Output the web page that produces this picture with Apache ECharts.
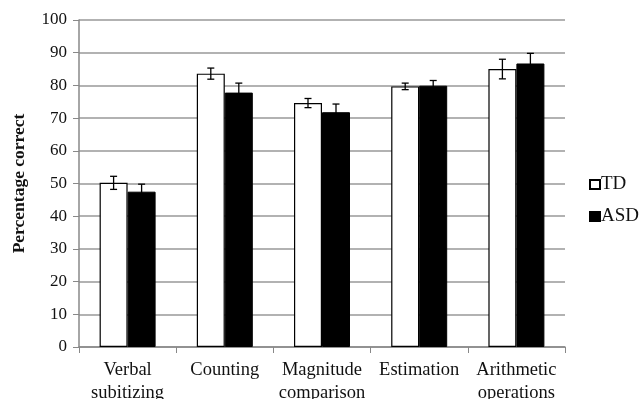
<!DOCTYPE html>
<html>
<head>
<meta charset="utf-8">
<script src="https://cdn.jsdelivr.net/npm/echarts@6/dist/echarts.min.js"></script>
<style>
  html, body { margin: 0; padding: 0; background: #fff; }
  #chart { width: 640px; height: 399px; }
</style>
</head>
<body>
<div id="chart"></div>
<script>
  // categories and values
  var categories = ['Verbal\nsubitizing', 'Counting', 'Magnitude\ncomparison', 'Estimation', 'Arithmetic\noperations'];
  var tdValues = [50.2, 83.6, 74.6, 79.7, 85.0];
  var tdErrors = [2.0, 1.7, 1.4, 1.0, 3.0];
  var asdValues = [47.5, 77.8, 71.8, 79.9, 86.7];
  var asdErrors = [2.3, 2.9, 2.5, 1.6, 3.1];
  var yTicks = [0, 10, 20, 30, 40, 50, 60, 70, 80, 90, 100];

  var FONT = 'Liberation Serif';
  var BAR_W = 28;

  /** error bars drawn at the bar centre, shifted left/right by half a bar */
  function errorSeries(name, values, errors, shift) {
    var data = values.map(function (v, i) { return [i, v - errors[i], v + errors[i]]; });
    return {
      name: name + ' err',
      type: 'custom',
      z: 10,
      silent: true,
      data: data,
      renderItem: function (params, api) {
        var i = api.value(0);
        var lo = api.coord([i, api.value(1)]);
        var hi = api.coord([i, api.value(2)]);
        var x = lo[0] + shift;
        var cap = 3.5;
        var style = { stroke: '#000', lineWidth: 1.3 };
        return {
          type: 'group',
          children: [
            { type: 'line', shape: { x1: x, y1: lo[1], x2: x, y2: hi[1] }, style: style },
            { type: 'line', shape: { x1: x - cap, y1: lo[1], x2: x + cap, y2: lo[1] }, style: style },
            { type: 'line', shape: { x1: x - cap, y1: hi[1], x2: x + cap, y2: hi[1] }, style: style }
          ]
        };
      }
    };
  }

  var myChart = echarts.init(document.getElementById('chart'));
  var option = {
    backgroundColor: '#fff',
    animation: false,
    grid: { left: 79, right: 75, top: 20, bottom: 52, outerBoundsMode: 'none' },
    legend: {
      data: ['TD', 'ASD'],
      orient: 'vertical',
      left: 584,
      top: 170,
      icon: 'rect',
      itemWidth: 10,
      itemHeight: 9,
      itemGap: 13,
      textStyle: { fontFamily: FONT, fontSize: 19, color: '#111', padding: [0, 0, 0, -4] }
    },
    xAxis: {
      type: 'category',
      data: categories,
      axisLine: { lineStyle: { color: '#888', width: 1.5 } },
      axisTick: { show: true, length: 6, lineStyle: { color: '#888' } },
      axisLabel: { fontFamily: FONT, fontSize: 18.5, color: '#111', margin: 12, lineHeight: 23, interval: 0 }
    },
    yAxis: {
      type: 'value',
      min: 0,
      max: 100,
      interval: 10,
      name: 'Percentage correct',
      nameLocation: 'middle',
      nameGap: 51,
      nameTextStyle: { fontFamily: FONT, fontSize: 17.5, fontWeight: 'bold', color: '#111' },
      axisLine: { show: true, lineStyle: { color: '#888', width: 1.5 } },
      axisTick: { show: true, length: 6, lineStyle: { color: '#888' } },
      axisLabel: {
        fontFamily: FONT, fontSize: 17, color: '#111', margin: 12,
        formatter: function (v) { return yTicks.indexOf(v) >= 0 ? String(v) : ''; }
      },
      splitLine: { lineStyle: { color: '#999', width: 1.5 } }
    },
    series: [
      {
        name: 'TD',
        type: 'bar',
        barWidth: BAR_W,
        barGap: '0%',
        data: tdValues,
        itemStyle: { color: '#fff', borderColor: '#000', borderWidth: 1.2 }
      },
      {
        name: 'ASD',
        type: 'bar',
        barWidth: BAR_W,
        data: asdValues,
        itemStyle: { color: '#000', borderColor: '#000', borderWidth: 1 }
      },
      errorSeries('TD', tdValues, tdErrors, -BAR_W / 2),
      errorSeries('ASD', asdValues, asdErrors, BAR_W / 2)
    ]
  };
  myChart.setOption(option, true);
</script>
</body>
</html>
